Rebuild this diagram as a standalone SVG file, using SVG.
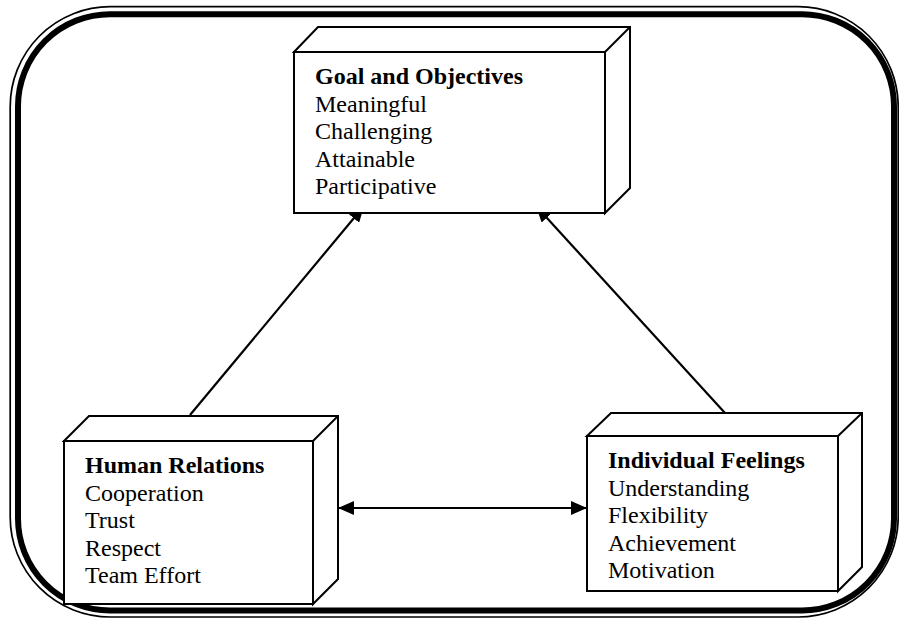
<svg xmlns="http://www.w3.org/2000/svg" width="899" height="619" viewBox="0 0 899 619">
  <style>
    .frame-thin { fill: none; stroke: #000; stroke-width: 1.7; }
    .frame-thick { fill: none; stroke: #000; stroke-width: 6; }
    .box { fill: #fff; stroke: #000; stroke-width: 2; stroke-linejoin: miter; }
    .edge { fill: none; stroke: #000; stroke-width: 2; }
    .conn { fill: none; stroke: #000; stroke-width: 2.2; }
    text { font-family: "Liberation Serif", "Times New Roman", serif; font-size: 24px; fill: #000; }
    .title { font-weight: bold; }
  </style>
  <defs>
    <marker id="arrow" viewBox="0 0 16 14" refX="16" refY="7" markerWidth="16" markerHeight="14" markerUnits="userSpaceOnUse" orient="auto-start-reverse">
      <path d="M0,0 L16,7 L0,14 Z" fill="#000"/>
    </marker>
  </defs>

  <rect width="899" height="619" fill="#fff"/>

  <!-- double-line rounded frame -->
  <rect class="frame-thin" x="10.2" y="6.7" width="888" height="610.3" rx="100" ry="100"/>
  <rect class="frame-thick" x="18" y="14.2" width="876" height="596.3" rx="92" ry="92"/>

  <!-- connectors -->
  <g id="connectors">
    <line class="conn" x1="190" y1="415" x2="364" y2="206" marker-end="url(#arrow)"/>
    <line class="conn" x1="725" y1="413" x2="536" y2="206" marker-end="url(#arrow)"/>
    <line class="conn" x1="338" y1="508" x2="587" y2="508" marker-start="url(#arrow)" marker-end="url(#arrow)"/>
  </g>

  <!-- Goal and Objectives -->
  <g id="goal">
    <path class="box" d="M294,52 L318,27 L630,27 L630,188 L605,213 L605,52 Z"/>
    <path class="edge" d="M605,52 L630,27"/>
    <rect class="box" x="294" y="52" width="311" height="161"/>
    <text class="title" x="315" y="84">Goal and Objectives</text>
    <text x="315" y="112">Meaningful</text>
    <text x="315" y="139">Challenging</text>
    <text x="315" y="167">Attainable</text>
    <text x="315" y="194">Participative</text>
  </g>

  <!-- Human Relations -->
  <g id="human">
    <path class="box" d="M64,441 L89,416 L338,416 L338,579 L313,604 L313,441 Z"/>
    <path class="edge" d="M313,441 L338,416"/>
    <rect class="box" x="64" y="441" width="249" height="163"/>
    <text class="title" x="85" y="473">Human Relations</text>
    <text x="85" y="501">Cooperation</text>
    <text x="85" y="528">Trust</text>
    <text x="85" y="556">Respect</text>
    <text x="85" y="583">Team Effort</text>
  </g>

  <!-- Individual Feelings -->
  <g id="individual">
    <path class="box" d="M587,436 L611,413 L862,413 L862,567 L838,591 L838,436 Z"/>
    <path class="edge" d="M838,436 L862,413"/>
    <rect class="box" x="587" y="436" width="251" height="155"/>
    <text class="title" x="608" y="468">Individual Feelings</text>
    <text x="608" y="496">Understanding</text>
    <text x="608" y="523">Flexibility</text>
    <text x="608" y="551">Achievement</text>
    <text x="608" y="578">Motivation</text>
  </g>
</svg>
